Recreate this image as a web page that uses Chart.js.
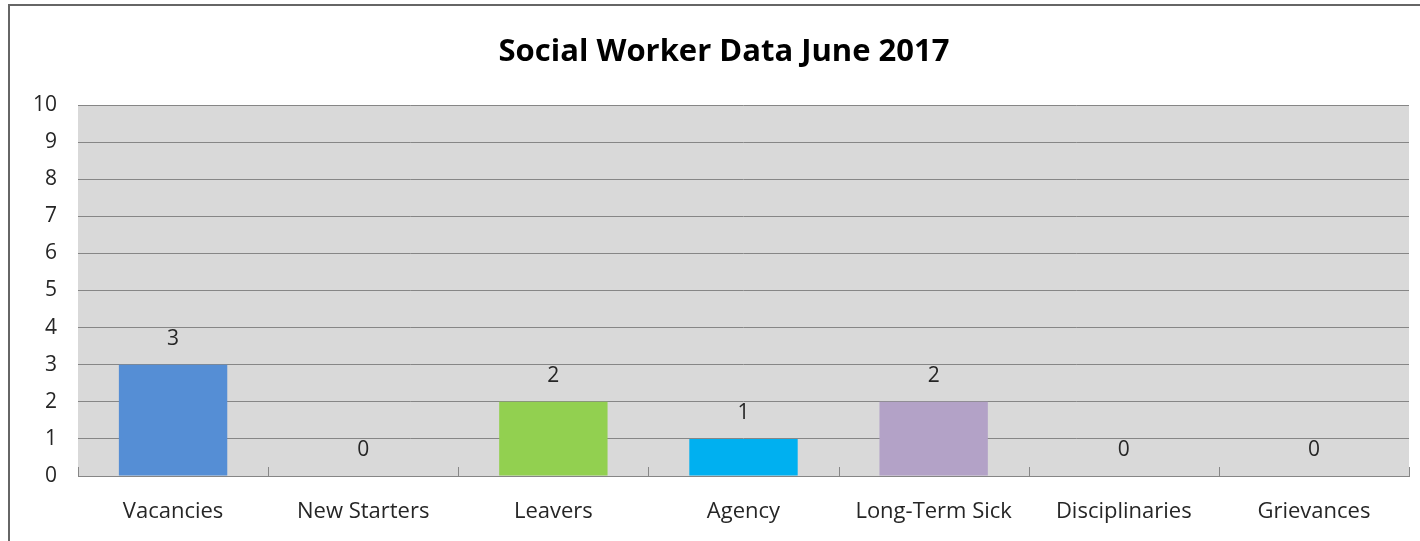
<!DOCTYPE html>
<html>
<head>
<meta charset="utf-8">
<script src="https://cdn.jsdelivr.net/npm/chart.js@4"></script>
<style>
  html, body { margin: 0; padding: 0; background: #fff; overflow: hidden; }
  #box {
    position: absolute; left: 8px; top: 4px;
    width: 1428px; height: 560px;
    border: 2px solid #666;
    background: #fff;
  }
  #wrap { position: absolute; left: 0; top: 0; width: 1428px; height: 540px; }
</style>
</head>
<body>
<div id="box"><div id="wrap"><canvas id="grafico"></canvas></div></div>
<script>
const categorias = ['Vacancies', 'New Starters', 'Leavers', 'Agency', 'Long-Term Sick', 'Disciplinaries', 'Grievances'];
const valores = [3, 0, 2, 1, 2, 0, 0];
const coresBarras = ['#558ed5', '#c0504d', '#92d050', '#00b0f0', '#b3a2c7', '#f79646', '#4bacc6'];
const titulo = 'Social Worker Data June 2017';
const eixoMin = 0;
const eixoMax = 10;
const eixoPasso = 1;

const fonte = '"Open Sans", Lato, sans-serif';

// fundo cinza da area de plotagem
const fundoPlot = {
    id: 'fundoPlot',
    beforeDraw(chart) {
        const { ctx, chartArea: a } = chart;
        ctx.save();
        ctx.fillStyle = '#d9d9d9';
        ctx.fillRect(a.left, a.top, a.right - a.left, a.bottom - a.top);
        ctx.restore();
    }
};

// titulo centrado no quadro todo, marcas entre categorias e rotulos de valor
const extras = {
    id: 'extras',
    afterDatasetsDraw(chart) {
        const { ctx, chartArea: a } = chart;
        const x = chart.scales.x;
        const y = chart.scales.y;
        const passo = x.getPixelForValue(1) - x.getPixelForValue(0);
        ctx.save();
        ctx.fillStyle = '#000';
        ctx.font = 'bold 31px ' + fonte;
        ctx.textAlign = 'center';
        ctx.textBaseline = 'middle';
        ctx.fillText(titulo, chart.width / 2, 46);

        ctx.strokeStyle = '#868686';
        ctx.lineWidth = 1;
        for (let i = 0; i <= categorias.length; i++) {
            const px = Math.round(x.getPixelForValue(i) - passo / 2) + 0.5;
            ctx.beginPath();
            ctx.moveTo(px, a.bottom);
            ctx.lineTo(px, a.bottom - 9);
            ctx.stroke();
        }
        ctx.fillStyle = '#262626';
        ctx.font = '21px ' + fonte;
        const meta = chart.getDatasetMeta(0);
        meta.data.forEach((bar, i) => {
            ctx.fillText(String(valores[i]), bar.x, y.getPixelForValue(valores[i]) - 26);
        });
        ctx.restore();
    }
};

new Chart(document.getElementById('grafico').getContext('2d'), {
    type: 'bar',
    data: {
        labels: categorias,
        datasets: [{
            data: valores,
            backgroundColor: coresBarras,
            borderWidth: 0,
            categoryPercentage: 1,
            barPercentage: 0.57
        }]
    },
    options: {
        responsive: true,
        maintainAspectRatio: false,
        animation: false,
        layout: { padding: { left: 0, right: 29, top: 99, bottom: 0 } },
        plugins: {
            legend: { display: false },
            tooltip: { enabled: false },
            title: { display: false }
        },
        scales: {
            x: {
                grid: { display: false },
                border: { display: true, color: '#868686', width: 1 },
                ticks: { color: '#262626', font: { family: fonte, size: 22 }, padding: 15, maxRotation: 0 },
                afterFit(scale) { scale.height = 70; }
            },
            y: {
                min: eixoMin,
                max: eixoMax,
                grid: { color: '#868686', lineWidth: 1, drawTicks: false },
                border: { display: false },
                ticks: { stepSize: eixoPasso, color: '#262626', font: { family: fonte, size: 21 }, padding: 21 },
                afterFit(scale) { scale.width = 68; }
            }
        }
    },
    plugins: [fundoPlot, extras]
});
</script>
</body>
</html>
